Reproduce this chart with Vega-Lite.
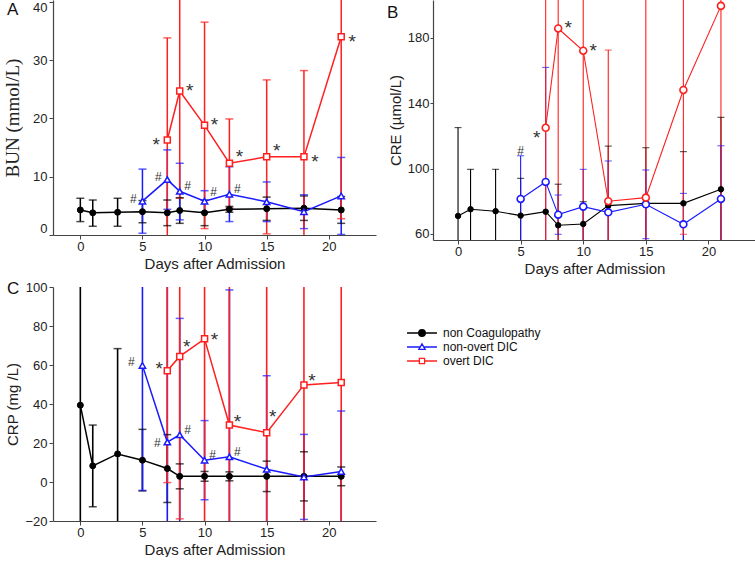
{
  "$schema": "https://vega.github.io/schema/vega-lite/v6.json",
  "padding": {"left": 3, "top": 0, "right": 0, "bottom": 0},
  "autosize": {"type": "pad"},
  "columns": 2,
  "spacing": {"row": 47, "column": 57},
  "bounds": "flush",
  "resolve": {"scale": {"color": "independent", "shape": "independent"}, "legend": {"color": "independent", "shape": "independent", "stroke": "independent", "fill": "independent"}},
  "datasets": {
    "bun": [
      {"group": "non Coagulopathy", "day": 0, "mean": 4.3, "lo": 2.3, "hi": 6.3, "sig": ""},
      {"group": "non Coagulopathy", "day": 1, "mean": 3.8, "lo": 1.5, "hi": 6.0, "sig": ""},
      {"group": "non Coagulopathy", "day": 3, "mean": 3.9, "lo": 1.5, "hi": 6.3, "sig": ""},
      {"group": "non Coagulopathy", "day": 5, "mean": 4.0, "lo": 2.1, "hi": 5.9, "sig": ""},
      {"group": "non Coagulopathy", "day": 7, "mean": 3.8, "lo": 1.6, "hi": 6.0, "sig": ""},
      {"group": "non Coagulopathy", "day": 8, "mean": 4.2, "lo": 2.0, "hi": 6.4, "sig": ""},
      {"group": "non Coagulopathy", "day": 10, "mean": 3.8, "lo": 1.6, "hi": 6.0, "sig": ""},
      {"group": "non Coagulopathy", "day": 12, "mean": 4.4, "lo": 3.9, "hi": 4.9, "sig": ""},
      {"group": "non Coagulopathy", "day": 15, "mean": 4.5, "lo": 2.5, "hi": 6.5, "sig": ""},
      {"group": "non Coagulopathy", "day": 18, "mean": 4.6, "lo": 2.5, "hi": 6.7, "sig": ""},
      {"group": "non Coagulopathy", "day": 21, "mean": 4.3, "lo": 2.0, "hi": 6.6, "sig": ""},
      {"group": "non-overt DIC", "day": 5, "mean": 5.8, "lo": 0.3, "hi": 11.3, "sig": "#"},
      {"group": "non-overt DIC", "day": 7, "mean": 9.5, "lo": 4.4, "hi": 14.6, "sig": "#"},
      {"group": "non-overt DIC", "day": 8, "mean": 7.5, "lo": 2.6, "hi": 12.3, "sig": "#"},
      {"group": "non-overt DIC", "day": 10, "mean": 5.8, "lo": 4.0, "hi": 7.6, "sig": "#"},
      {"group": "non-overt DIC", "day": 12, "mean": 7.0, "lo": 2.3, "hi": 11.7, "sig": "#"},
      {"group": "non-overt DIC", "day": 15, "mean": 5.7, "lo": 2.3, "hi": 9.1, "sig": ""},
      {"group": "non-overt DIC", "day": 18, "mean": 4.0, "lo": 1.1, "hi": 6.9, "sig": ""},
      {"group": "non-overt DIC", "day": 21, "mean": 6.7, "lo": 0.1, "hi": 13.3, "sig": ""},
      {"group": "overt DIC", "day": 7, "mean": 16.3, "lo": -1.2, "hi": 33.8, "sig": "*"},
      {"group": "overt DIC", "day": 8, "mean": 24.7, "lo": 6.3, "hi": 43.1, "sig": "*"},
      {"group": "overt DIC", "day": 10, "mean": 18.8, "lo": 1.1, "hi": 36.5, "sig": "*"},
      {"group": "overt DIC", "day": 12, "mean": 12.3, "lo": 4.6, "hi": 19.9, "sig": "*"},
      {"group": "overt DIC", "day": 15, "mean": 13.4, "lo": 0.2, "hi": 26.6, "sig": "*"},
      {"group": "overt DIC", "day": 18, "mean": 13.4, "lo": -1.4, "hi": 28.2, "sig": "*"},
      {"group": "overt DIC", "day": 21, "mean": 34.0, "lo": 2.8, "hi": 65.2, "sig": "*"}
    ],
    "cre": [
      {"group": "non Coagulopathy", "day": 0, "mean": 71.0, "lo": 17.0, "hi": 125.0, "sig": ""},
      {"group": "non Coagulopathy", "day": 1, "mean": 75.1, "lo": 50.7, "hi": 99.5, "sig": ""},
      {"group": "non Coagulopathy", "day": 3, "mean": 73.9, "lo": 48.3, "hi": 99.5, "sig": ""},
      {"group": "non Coagulopathy", "day": 5, "mean": 71.2, "lo": 48.4, "hi": 94.0, "sig": ""},
      {"group": "non Coagulopathy", "day": 7, "mean": 73.6, "lo": null, "hi": null, "sig": ""},
      {"group": "non Coagulopathy", "day": 8, "mean": 65.3, "lo": 40.2, "hi": 90.4, "sig": ""},
      {"group": "non Coagulopathy", "day": 10, "mean": 66.1, "lo": 52.5, "hi": 79.7, "sig": ""},
      {"group": "non Coagulopathy", "day": 12, "mean": 77.3, "lo": 40.9, "hi": 113.7, "sig": ""},
      {"group": "non Coagulopathy", "day": 15, "mean": 78.7, "lo": 44.7, "hi": 112.7, "sig": ""},
      {"group": "non Coagulopathy", "day": 18, "mean": 78.7, "lo": 47.1, "hi": 110.3, "sig": ""},
      {"group": "non Coagulopathy", "day": 21, "mean": 87.3, "lo": 43.3, "hi": 131.3, "sig": ""},
      {"group": "non-overt DIC", "day": 5, "mean": 81.4, "lo": 55.0, "hi": 107.8, "sig": "#"},
      {"group": "non-overt DIC", "day": 7, "mean": 91.8, "lo": 21.8, "hi": 161.8, "sig": ""},
      {"group": "non-overt DIC", "day": 8, "mean": 71.8, "lo": 59.8, "hi": 83.8, "sig": ""},
      {"group": "non-overt DIC", "day": 10, "mean": 76.7, "lo": 53.9, "hi": 99.5, "sig": ""},
      {"group": "non-overt DIC", "day": 12, "mean": 73.2, "lo": 41.8, "hi": 104.6, "sig": ""},
      {"group": "non-overt DIC", "day": 15, "mean": 78.1, "lo": 57.1, "hi": 99.1, "sig": ""},
      {"group": "non-overt DIC", "day": 18, "mean": 65.9, "lo": 47.0, "hi": 84.8, "sig": ""},
      {"group": "non-overt DIC", "day": 21, "mean": 81.4, "lo": 48.9, "hi": 113.9, "sig": ""},
      {"group": "overt DIC", "day": 7, "mean": 124.9, "lo": 24.9, "hi": 224.9, "sig": "*"},
      {"group": "overt DIC", "day": 8, "mean": 185.6, "lo": 35.6, "hi": 335.6, "sig": "*"},
      {"group": "overt DIC", "day": 10, "mean": 172.0, "lo": 32.0, "hi": 312.0, "sig": "*"},
      {"group": "overt DIC", "day": 12, "mean": 80.0, "lo": -12.4, "hi": 172.4, "sig": ""},
      {"group": "overt DIC", "day": 15, "mean": 82.2, "lo": -47.8, "hi": 212.2, "sig": ""},
      {"group": "overt DIC", "day": 18, "mean": 148.0, "lo": 59.8, "hi": 236.2, "sig": ""},
      {"group": "overt DIC", "day": 21, "mean": 199.4, "lo": 49.4, "hi": 349.4, "sig": ""}
    ],
    "crp": [
      {"group": "non Coagulopathy", "day": 0, "mean": 39.4, "lo": -26.2, "hi": 105.0, "sig": ""},
      {"group": "non Coagulopathy", "day": 1, "mean": 8.3, "lo": -12.7, "hi": 29.2, "sig": ""},
      {"group": "non Coagulopathy", "day": 3, "mean": 14.4, "lo": -39.6, "hi": 68.4, "sig": ""},
      {"group": "non Coagulopathy", "day": 5, "mean": 11.2, "lo": -4.6, "hi": 27.0, "sig": ""},
      {"group": "non Coagulopathy", "day": 7, "mean": 6.9, "lo": -10.5, "hi": 24.3, "sig": ""},
      {"group": "non Coagulopathy", "day": 8, "mean": 2.9, "lo": -3.5, "hi": 9.3, "sig": ""},
      {"group": "non Coagulopathy", "day": 10, "mean": 2.9, "lo": 0.4, "hi": 5.4, "sig": ""},
      {"group": "non Coagulopathy", "day": 12, "mean": 2.9, "lo": 0.6, "hi": 5.2, "sig": ""},
      {"group": "non Coagulopathy", "day": 15, "mean": 2.9, "lo": -4.9, "hi": 10.7, "sig": ""},
      {"group": "non Coagulopathy", "day": 18, "mean": 2.9, "lo": -9.7, "hi": 15.5, "sig": ""},
      {"group": "non Coagulopathy", "day": 21, "mean": 2.9, "lo": -1.9, "hi": 7.7, "sig": ""},
      {"group": "non-overt DIC", "day": 5, "mean": 59.8, "lo": -4.3, "hi": 123.9, "sig": "#"},
      {"group": "non-overt DIC", "day": 7, "mean": 20.5, "lo": -65.0, "hi": 106.0, "sig": "#"},
      {"group": "non-overt DIC", "day": 8, "mean": 24.2, "lo": -35.5, "hi": 83.9, "sig": "#"},
      {"group": "non-overt DIC", "day": 10, "mean": 11.2, "lo": -9.1, "hi": 31.5, "sig": "#"},
      {"group": "non-overt DIC", "day": 12, "mean": 12.9, "lo": -72.7, "hi": 98.5, "sig": "#"},
      {"group": "non-overt DIC", "day": 15, "mean": 6.5, "lo": -41.5, "hi": 54.5, "sig": ""},
      {"group": "non-overt DIC", "day": 18, "mean": 2.6, "lo": -19.2, "hi": 24.4, "sig": ""},
      {"group": "non-overt DIC", "day": 21, "mean": 5.4, "lo": -25.6, "hi": 36.4, "sig": ""},
      {"group": "overt DIC", "day": 7, "mean": 57.1, "lo": -0.3, "hi": 114.5, "sig": "*"},
      {"group": "overt DIC", "day": 8, "mean": 64.4, "lo": -18.9, "hi": 147.7, "sig": "*"},
      {"group": "overt DIC", "day": 10, "mean": 73.4, "lo": -60.0, "hi": 206.8, "sig": "*"},
      {"group": "overt DIC", "day": 12, "mean": 29.2, "lo": -80.0, "hi": 138.4, "sig": "*"},
      {"group": "overt DIC", "day": 15, "mean": 25.3, "lo": -80.0, "hi": 130.6, "sig": "*"},
      {"group": "overt DIC", "day": 18, "mean": 49.8, "lo": -60.0, "hi": 159.6, "sig": "*"},
      {"group": "overt DIC", "day": 21, "mean": 51.0, "lo": -60.0, "hi": 162.0, "sig": ""}
    ]
  },
  "concat": [
    {
      "width": 323, "height": 235,
      "layer": [
        {"data": {"name": "bun"}, "mark": {"type": "rule", "clip": true, "strokeWidth": 1.5},
         "encoding": {"x": {"field": "day", "type": "quantitative", "scale": {"domain": [-2.2, 23.8], "nice": false, "zero": false}, "axis": {"title": "Days after Admission", "values": [0, 5, 10, 15, 20], "labelFlush": false}},
           "y": {"field": "lo", "type": "quantitative", "scale": {"domain": [0, 40.3], "nice": false, "zero": false}, "axis": {"title": "BUN (mmol/L)", "titleFont": "Liberation Serif", "titleFontSize": 19, "values": [0, 10, 20, 30, 40], "labelFlush": 3, "titlePadding": 10, "labelOverlap": false}}, "y2": {"field": "hi"}, "stroke": {"field": "group", "type": "nominal", "legend": null}}},
        {"data": {"name": "bun"}, "mark": {"type": "tick", "orient": "horizontal", "clip": true, "size": 8, "thickness": 1.5},
         "encoding": {"x": {"field": "day", "type": "quantitative"}, "y": {"field": "lo", "type": "quantitative"}, "fill": {"field": "group", "type": "nominal", "legend": null}}},
        {"data": {"name": "bun"}, "mark": {"type": "tick", "orient": "horizontal", "clip": true, "size": 8, "thickness": 1.5},
         "encoding": {"x": {"field": "day", "type": "quantitative"}, "y": {"field": "hi", "type": "quantitative"}, "fill": {"field": "group", "type": "nominal", "legend": null}}},
        {"data": {"name": "bun"}, "mark": {"type": "line", "clip": true, "strokeWidth": 1.5},
         "encoding": {"x": {"field": "day", "type": "quantitative"}, "y": {"field": "mean", "type": "quantitative"}, "stroke": {"field": "group", "type": "nominal", "legend": null}}},
        {"data": {"name": "bun"}, "transform": [{"filter": "datum.group === 'non Coagulopathy'"}], "mark": {"type": "point", "shape": "circle", "clip": true, "filled": true, "fill": "#000000", "stroke": "#000000", "size": 36, "strokeWidth": 1, "opacity": 1},
         "encoding": {"x": {"field": "day", "type": "quantitative"}, "y": {"field": "mean", "type": "quantitative"}}},
        {"data": {"name": "bun"}, "transform": [{"filter": "datum.group === 'non-overt DIC'"}], "mark": {"type": "point", "shape": "triangle-up", "clip": true, "filled": true, "fill": "#ffffff", "stroke": "#1a1aff", "size": 40, "strokeWidth": 1.5, "opacity": 1},
         "encoding": {"x": {"field": "day", "type": "quantitative"}, "y": {"field": "mean", "type": "quantitative"}}},
        {"data": {"name": "bun"}, "transform": [{"filter": "datum.group === 'overt DIC'"}], "mark": {"type": "point", "shape": "square", "clip": true, "filled": true, "fill": "#ffffff", "stroke": "#ff1f1f", "size": 36, "strokeWidth": 1.5, "opacity": 1},
         "encoding": {"x": {"field": "day", "type": "quantitative"}, "y": {"field": "mean", "type": "quantitative"}}},
        {"data": {"name": "bun"}, "transform": [{"filter": "datum.sig === '*' && indexof([7], datum.day) >= 0"}], "mark": {"type": "text", "dx": -11, "dy": 5, "fontSize": 19, "color": "#333", "baseline": "middle", "align": "center"},
         "encoding": {"x": {"field": "day", "type": "quantitative"}, "y": {"field": "mean", "type": "quantitative"}, "text": {"field": "sig"}}},
        {"data": {"name": "bun"}, "transform": [{"filter": "datum.sig === '*' && indexof([8, 10], datum.day) >= 0"}], "mark": {"type": "text", "dx": 10, "dy": 0, "fontSize": 19, "color": "#333", "baseline": "middle", "align": "center"},
         "encoding": {"x": {"field": "day", "type": "quantitative"}, "y": {"field": "mean", "type": "quantitative"}, "text": {"field": "sig"}}},
        {"data": {"name": "bun"}, "transform": [{"filter": "datum.sig === '*' && indexof([12, 15], datum.day) >= 0"}], "mark": {"type": "text", "dx": 10, "dy": -6, "fontSize": 19, "color": "#333", "baseline": "middle", "align": "center"},
         "encoding": {"x": {"field": "day", "type": "quantitative"}, "y": {"field": "mean", "type": "quantitative"}, "text": {"field": "sig"}}},
        {"data": {"name": "bun"}, "transform": [{"filter": "datum.sig === '*' && indexof([18, 21], datum.day) >= 0"}], "mark": {"type": "text", "dx": 11, "dy": 5, "fontSize": 19, "color": "#333", "baseline": "middle", "align": "center"},
         "encoding": {"x": {"field": "day", "type": "quantitative"}, "y": {"field": "mean", "type": "quantitative"}, "text": {"field": "sig"}}},
        {"data": {"name": "bun"}, "transform": [{"filter": "datum.sig === '#' && indexof([5, 7], datum.day) >= 0"}], "mark": {"type": "text", "dx": -9, "dy": -2.5, "fontSize": 12, "color": "#333", "baseline": "middle", "align": "center"},
         "encoding": {"x": {"field": "day", "type": "quantitative"}, "y": {"field": "mean", "type": "quantitative"}, "text": {"field": "sig"}}},
        {"data": {"name": "bun"}, "transform": [{"filter": "datum.sig === '#' && indexof([8, 12], datum.day) >= 0"}], "mark": {"type": "text", "dx": 8, "dy": -5, "fontSize": 12, "color": "#333", "baseline": "middle", "align": "center"},
         "encoding": {"x": {"field": "day", "type": "quantitative"}, "y": {"field": "mean", "type": "quantitative"}, "text": {"field": "sig"}}},
        {"data": {"name": "bun"}, "transform": [{"filter": "datum.sig === '#' && indexof([10], datum.day) >= 0"}], "mark": {"type": "text", "dx": 9, "dy": -9, "fontSize": 12, "color": "#333", "baseline": "middle", "align": "center"},
         "encoding": {"x": {"field": "day", "type": "quantitative"}, "y": {"field": "mean", "type": "quantitative"}, "text": {"field": "sig"}}},
        {"data": {"values": [{"panel": "A"}]}, "mark": {"type": "text", "fontSize": 17, "color": "#111", "baseline": "top", "align": "left"},
         "encoding": {"x": {"datum": -5.9, "type": "quantitative"}, "y": {"datum": 40.0, "type": "quantitative"}, "text": {"field": "panel"}}}
      ]
    },
    {
      "width": 323, "height": 240,
      "layer": [
        {"data": {"name": "cre"}, "mark": {"type": "rule", "clip": true, "strokeWidth": 1.1},
         "encoding": {"x": {"field": "day", "type": "quantitative", "scale": {"domain": [-2, 23.8], "nice": false, "zero": false}, "axis": {"title": "Days after Admission", "values": [0, 5, 10, 15, 20], "labelFlush": false}},
           "y": {"field": "lo", "type": "quantitative", "scale": {"domain": [56.3, 203], "nice": false, "zero": false}, "axis": {"title": "CRE (µmol/L)", "values": [60, 100, 140, 180], "titlePadding": 4, "tickSize": 3, "labelPadding": 1, "labelOverlap": false}}, "y2": {"field": "hi"}, "stroke": {"field": "group", "type": "nominal", "legend": null}}},
        {"data": {"name": "cre"}, "mark": {"type": "tick", "orient": "horizontal", "clip": true, "size": 7, "thickness": 1.1},
         "encoding": {"x": {"field": "day", "type": "quantitative"}, "y": {"field": "lo", "type": "quantitative"}, "fill": {"field": "group", "type": "nominal", "legend": null}}},
        {"data": {"name": "cre"}, "mark": {"type": "tick", "orient": "horizontal", "clip": true, "size": 7, "thickness": 1.1},
         "encoding": {"x": {"field": "day", "type": "quantitative"}, "y": {"field": "hi", "type": "quantitative"}, "fill": {"field": "group", "type": "nominal", "legend": null}}},
        {"data": {"name": "cre"}, "mark": {"type": "line", "clip": true, "strokeWidth": 1.1},
         "encoding": {"x": {"field": "day", "type": "quantitative"}, "y": {"field": "mean", "type": "quantitative"}, "stroke": {"field": "group", "type": "nominal", "legend": null}}},
        {"data": {"name": "cre"}, "transform": [{"filter": "datum.group === 'non Coagulopathy'"}], "mark": {"type": "point", "shape": "circle", "clip": true, "filled": true, "fill": "#000000", "stroke": "#000000", "size": 30, "strokeWidth": 1, "opacity": 1},
         "encoding": {"x": {"field": "day", "type": "quantitative"}, "y": {"field": "mean", "type": "quantitative"}}},
        {"data": {"name": "cre"}, "transform": [{"filter": "datum.group === 'non-overt DIC'"}], "mark": {"type": "point", "shape": "circle", "clip": true, "filled": true, "fill": "#ffffff", "stroke": "#1a1aff", "size": 48, "strokeWidth": 1.6, "opacity": 1},
         "encoding": {"x": {"field": "day", "type": "quantitative"}, "y": {"field": "mean", "type": "quantitative"}}},
        {"data": {"name": "cre"}, "transform": [{"filter": "datum.group === 'overt DIC'"}], "mark": {"type": "point", "shape": "circle", "clip": true, "filled": true, "fill": "#ffffff", "stroke": "#ff1f1f", "size": 48, "strokeWidth": 1.6, "opacity": 1},
         "encoding": {"x": {"field": "day", "type": "quantitative"}, "y": {"field": "mean", "type": "quantitative"}}},
        {"data": {"name": "cre"}, "transform": [{"filter": "datum.sig === '*' && indexof([7], datum.day) >= 0"}], "mark": {"type": "text", "dx": -9, "dy": 10, "fontSize": 19, "color": "#333", "baseline": "middle", "align": "center"},
         "encoding": {"x": {"field": "day", "type": "quantitative"}, "y": {"field": "mean", "type": "quantitative"}, "text": {"field": "sig"}}},
        {"data": {"name": "cre"}, "transform": [{"filter": "datum.sig === '*' && indexof([8, 10], datum.day) >= 0"}], "mark": {"type": "text", "dx": 10, "dy": 0, "fontSize": 19, "color": "#333", "baseline": "middle", "align": "center"},
         "encoding": {"x": {"field": "day", "type": "quantitative"}, "y": {"field": "mean", "type": "quantitative"}, "text": {"field": "sig"}}},
        {"data": {"name": "cre"}, "transform": [{"filter": "datum.sig === '#'"}], "mark": {"type": "text", "dx": 0, "dy": -5, "fontSize": 12, "color": "#333", "baseline": "middle", "align": "center"},
         "encoding": {"x": {"field": "day", "type": "quantitative"}, "y": {"field": "hi", "type": "quantitative"}, "text": {"field": "sig"}}},
        {"data": {"values": [{"panel": "B"}]}, "mark": {"type": "text", "fontSize": 17, "color": "#111", "baseline": "top", "align": "left"},
         "encoding": {"x": {"datum": -5.67, "type": "quantitative"}, "y": {"datum": 200.0, "type": "quantitative"}, "text": {"field": "panel"}}}
      ]
    },
    {
      "width": 323, "height": 234,
      "layer": [
        {"data": {"name": "crp"}, "mark": {"type": "rule", "clip": true, "strokeWidth": 1.6},
         "encoding": {"x": {"field": "day", "type": "quantitative", "scale": {"domain": [-2.2, 23.8], "nice": false, "zero": false}, "axis": {"title": "Days after Admission", "values": [0, 5, 10, 15, 20], "labelFlush": false}},
           "y": {"field": "lo", "type": "quantitative", "scale": {"domain": [-20, 100], "nice": false, "zero": false}, "axis": {"title": "CRP (mg /L)", "values": [-20, 0, 20, 40, 60, 80, 100], "titlePadding": 4, "labelOverlap": false, "labelBound": false}}, "y2": {"field": "hi"}, "stroke": {"field": "group", "type": "nominal", "legend": null}}},
        {"data": {"name": "crp"}, "mark": {"type": "tick", "orient": "horizontal", "clip": true, "size": 8, "thickness": 1.5},
         "encoding": {"x": {"field": "day", "type": "quantitative"}, "y": {"field": "lo", "type": "quantitative", "axis": {"title": "CRP (mg /L)", "values": [-20, 0, 20, 40, 60, 80, 100], "titlePadding": 4, "labelOverlap": false, "labelBound": false}}, "fill": {"field": "group", "type": "nominal", "legend": null}}},
        {"data": {"name": "crp"}, "mark": {"type": "tick", "orient": "horizontal", "clip": true, "size": 8, "thickness": 1.5},
         "encoding": {"x": {"field": "day", "type": "quantitative"}, "y": {"field": "hi", "type": "quantitative", "axis": {"title": "CRP (mg /L)", "values": [-20, 0, 20, 40, 60, 80, 100], "titlePadding": 4, "labelOverlap": false, "labelBound": false}}, "fill": {"field": "group", "type": "nominal", "legend": null}}},
        {"data": {"name": "crp"}, "mark": {"type": "line", "clip": true, "strokeWidth": 1.5},
         "encoding": {"x": {"field": "day", "type": "quantitative"}, "y": {"field": "mean", "type": "quantitative", "axis": {"title": "CRP (mg /L)", "values": [-20, 0, 20, 40, 60, 80, 100], "titlePadding": 4, "labelOverlap": false, "labelBound": false}}, "stroke": {"field": "group", "type": "nominal", "legend": null}}},
        {"data": {"name": "crp"}, "transform": [{"filter": "datum.group === 'non Coagulopathy'"}], "mark": {"type": "point", "shape": "circle", "clip": true, "filled": true, "fill": "#000000", "stroke": "#000000", "size": 36, "strokeWidth": 1, "opacity": 1},
         "encoding": {"x": {"field": "day", "type": "quantitative"}, "y": {"field": "mean", "type": "quantitative", "axis": {"title": "CRP (mg /L)", "values": [-20, 0, 20, 40, 60, 80, 100], "titlePadding": 4, "labelOverlap": false, "labelBound": false}}}},
        {"data": {"name": "crp"}, "transform": [{"filter": "datum.group === 'non-overt DIC'"}], "mark": {"type": "point", "shape": "triangle-up", "clip": true, "filled": true, "fill": "#ffffff", "stroke": "#1a1aff", "size": 40, "strokeWidth": 1.5, "opacity": 1},
         "encoding": {"x": {"field": "day", "type": "quantitative"}, "y": {"field": "mean", "type": "quantitative", "axis": {"title": "CRP (mg /L)", "values": [-20, 0, 20, 40, 60, 80, 100], "titlePadding": 4, "labelOverlap": false, "labelBound": false}}}},
        {"data": {"name": "crp"}, "transform": [{"filter": "datum.group === 'overt DIC'"}], "mark": {"type": "point", "shape": "square", "clip": true, "filled": true, "fill": "#ffffff", "stroke": "#ff1f1f", "size": 36, "strokeWidth": 1.5, "opacity": 1},
         "encoding": {"x": {"field": "day", "type": "quantitative"}, "y": {"field": "mean", "type": "quantitative", "axis": {"title": "CRP (mg /L)", "values": [-20, 0, 20, 40, 60, 80, 100], "titlePadding": 4, "labelOverlap": false, "labelBound": false}}}},
        {"data": {"name": "crp"}, "transform": [{"filter": "false"}], "mark": {"type": "point", "filled": false, "strokeWidth": 1.3, "opacity": 1},
         "encoding": {"x": {"field": "day", "type": "quantitative"}, "y": {"field": "mean", "type": "quantitative", "axis": {"title": "CRP (mg /L)", "values": [-20, 0, 20, 40, 60, 80, 100], "titlePadding": 4, "labelOverlap": false, "labelBound": false}},
           "color": {"field": "group", "type": "nominal", "scale": {"domain": ["non Coagulopathy", "non-overt DIC", "overt DIC"], "range": ["#000000", "#1a1aff", "#ff1f1f"]},
             "legend": {"orient": "none", "legendX": 361, "legendY": 38, "title": null, "symbolSize": 196, "symbolStrokeWidth": 1.3, "symbolOpacity": 1, "labelFontSize": 12, "labelFont": "Liberation Sans", "labelColor": "#111", "labelOffset": 13, "rowPadding": -3, "padding": 0}},
           "shape": {"field": "group", "type": "nominal", "scale": {"domain": ["non Coagulopathy", "non-overt DIC", "overt DIC"], "range": [
             "M-2.14,0H2.14M0.47,0A0.47,0.47 0 1 1 -0.47,0A0.47,0.47 0 1 1 0.47,0M0.3,0A0.3,0.3 0 1 1 -0.3,0A0.3,0.3 0 1 1 0.3,0M0.14,0A0.14,0.14 0 1 1 -0.14,0A0.14,0.14 0 1 1 0.14,0",
             "M-2.14,0H-0.27M0.27,0H2.14M0,-0.45L0.45,0.33L-0.45,0.33Z",
             "M-2.14,0H-0.37M0.37,0H2.14M-0.37,-0.37H0.37V0.37H-0.37Z"]},
             "legend": {"orient": "none", "legendX": 361, "legendY": 38, "title": null, "symbolSize": 196, "symbolStrokeWidth": 1.3, "symbolOpacity": 1, "labelFontSize": 12, "labelFont": "Liberation Sans", "labelColor": "#111", "labelOffset": 13, "rowPadding": -3, "padding": 0}}}},
        {"data": {"name": "crp"}, "transform": [{"filter": "datum.sig === '#' && indexof([5], datum.day) >= 0"}], "mark": {"type": "text", "dx": -11, "dy": -3, "fontSize": 12, "color": "#333", "baseline": "middle", "align": "center"},
         "encoding": {"x": {"field": "day", "type": "quantitative"}, "y": {"field": "mean", "type": "quantitative", "axis": {"title": "CRP (mg /L)", "values": [-20, 0, 20, 40, 60, 80, 100], "titlePadding": 4, "labelOverlap": false, "labelBound": false}}, "text": {"field": "sig"}}},
        {"data": {"name": "crp"}, "transform": [{"filter": "datum.sig === '#' && indexof([7], datum.day) >= 0"}], "mark": {"type": "text", "dx": -10, "dy": 1, "fontSize": 12, "color": "#333", "baseline": "middle", "align": "center"},
         "encoding": {"x": {"field": "day", "type": "quantitative"}, "y": {"field": "mean", "type": "quantitative", "axis": {"title": "CRP (mg /L)", "values": [-20, 0, 20, 40, 60, 80, 100], "titlePadding": 4, "labelOverlap": false, "labelBound": false}}, "text": {"field": "sig"}}},
        {"data": {"name": "crp"}, "transform": [{"filter": "datum.sig === '#' && indexof([8, 10, 12], datum.day) >= 0"}], "mark": {"type": "text", "dx": 8, "dy": -5, "fontSize": 12, "color": "#333", "baseline": "middle", "align": "center"},
         "encoding": {"x": {"field": "day", "type": "quantitative"}, "y": {"field": "mean", "type": "quantitative", "axis": {"title": "CRP (mg /L)", "values": [-20, 0, 20, 40, 60, 80, 100], "titlePadding": 4, "labelOverlap": false, "labelBound": false}}, "text": {"field": "sig"}}},
        {"data": {"name": "crp"}, "transform": [{"filter": "datum.sig === '*' && indexof([7], datum.day) >= 0"}], "mark": {"type": "text", "dx": -8, "dy": -2, "fontSize": 19, "color": "#333", "baseline": "middle", "align": "center"},
         "encoding": {"x": {"field": "day", "type": "quantitative"}, "y": {"field": "mean", "type": "quantitative", "axis": {"title": "CRP (mg /L)", "values": [-20, 0, 20, 40, 60, 80, 100], "titlePadding": 4, "labelOverlap": false, "labelBound": false}}, "text": {"field": "sig"}}},
        {"data": {"name": "crp"}, "transform": [{"filter": "datum.sig === '*' && indexof([8], datum.day) >= 0"}], "mark": {"type": "text", "dx": 7, "dy": -9, "fontSize": 19, "color": "#333", "baseline": "middle", "align": "center"},
         "encoding": {"x": {"field": "day", "type": "quantitative"}, "y": {"field": "mean", "type": "quantitative", "axis": {"title": "CRP (mg /L)", "values": [-20, 0, 20, 40, 60, 80, 100], "titlePadding": 4, "labelOverlap": false, "labelBound": false}}, "text": {"field": "sig"}}},
        {"data": {"name": "crp"}, "transform": [{"filter": "datum.sig === '*' && indexof([10], datum.day) >= 0"}], "mark": {"type": "text", "dx": 10, "dy": 1, "fontSize": 19, "color": "#333", "baseline": "middle", "align": "center"},
         "encoding": {"x": {"field": "day", "type": "quantitative"}, "y": {"field": "mean", "type": "quantitative", "axis": {"title": "CRP (mg /L)", "values": [-20, 0, 20, 40, 60, 80, 100], "titlePadding": 4, "labelOverlap": false, "labelBound": false}}, "text": {"field": "sig"}}},
        {"data": {"name": "crp"}, "transform": [{"filter": "datum.sig === '*' && indexof([12, 18], datum.day) >= 0"}], "mark": {"type": "text", "dx": 8, "dy": -3.5, "fontSize": 19, "color": "#333", "baseline": "middle", "align": "center"},
         "encoding": {"x": {"field": "day", "type": "quantitative"}, "y": {"field": "mean", "type": "quantitative", "axis": {"title": "CRP (mg /L)", "values": [-20, 0, 20, 40, 60, 80, 100], "titlePadding": 4, "labelOverlap": false, "labelBound": false}}, "text": {"field": "sig"}}},
        {"data": {"name": "crp"}, "transform": [{"filter": "datum.sig === '*' && indexof([15], datum.day) >= 0"}], "mark": {"type": "text", "dx": 6, "dy": -16, "fontSize": 19, "color": "#333", "baseline": "middle", "align": "center"},
         "encoding": {"x": {"field": "day", "type": "quantitative"}, "y": {"field": "mean", "type": "quantitative", "axis": {"title": "CRP (mg /L)", "values": [-20, 0, 20, 40, 60, 80, 100], "titlePadding": 4, "labelOverlap": false, "labelBound": false}}, "text": {"field": "sig"}}},
        {"data": {"values": [{"panel": "C"}]}, "mark": {"type": "text", "fontSize": 17, "color": "#111", "baseline": "top", "align": "left"},
         "encoding": {"x": {"datum": -5.9, "type": "quantitative"}, "y": {"datum": 103.1, "type": "quantitative", "axis": {"title": "CRP (mg /L)", "values": [-20, 0, 20, 40, 60, 80, 100], "titlePadding": 4, "labelOverlap": false, "labelBound": false}}, "text": {"field": "panel"}}}
      ]
    }
  ],
  "config": {
    "view": {"stroke": null},
    "font": "Liberation Sans",
    "axis": {"grid": false, "labelFont": "Liberation Sans", "labelFontSize": 13, "labelColor": "#222", "titleFont": "Liberation Sans", "titleFontSize": 15, "titleFontWeight": "normal", "titleColor": "#222", "domainColor": "#444", "tickColor": "#444", "tickSize": 4, "labelPadding": 2, "domainWidth": 1.2, "labelOverlap": false},
    "axisY": {"labelOverlap": false},
    "axisQuantitative": {"labelOverlap": false},
    "axisX": {"titlePadding": 3, "labelPadding": 1},
    "range": {"category": ["#000000", "#1a1aff", "#ff1f1f"]}
  }
}
